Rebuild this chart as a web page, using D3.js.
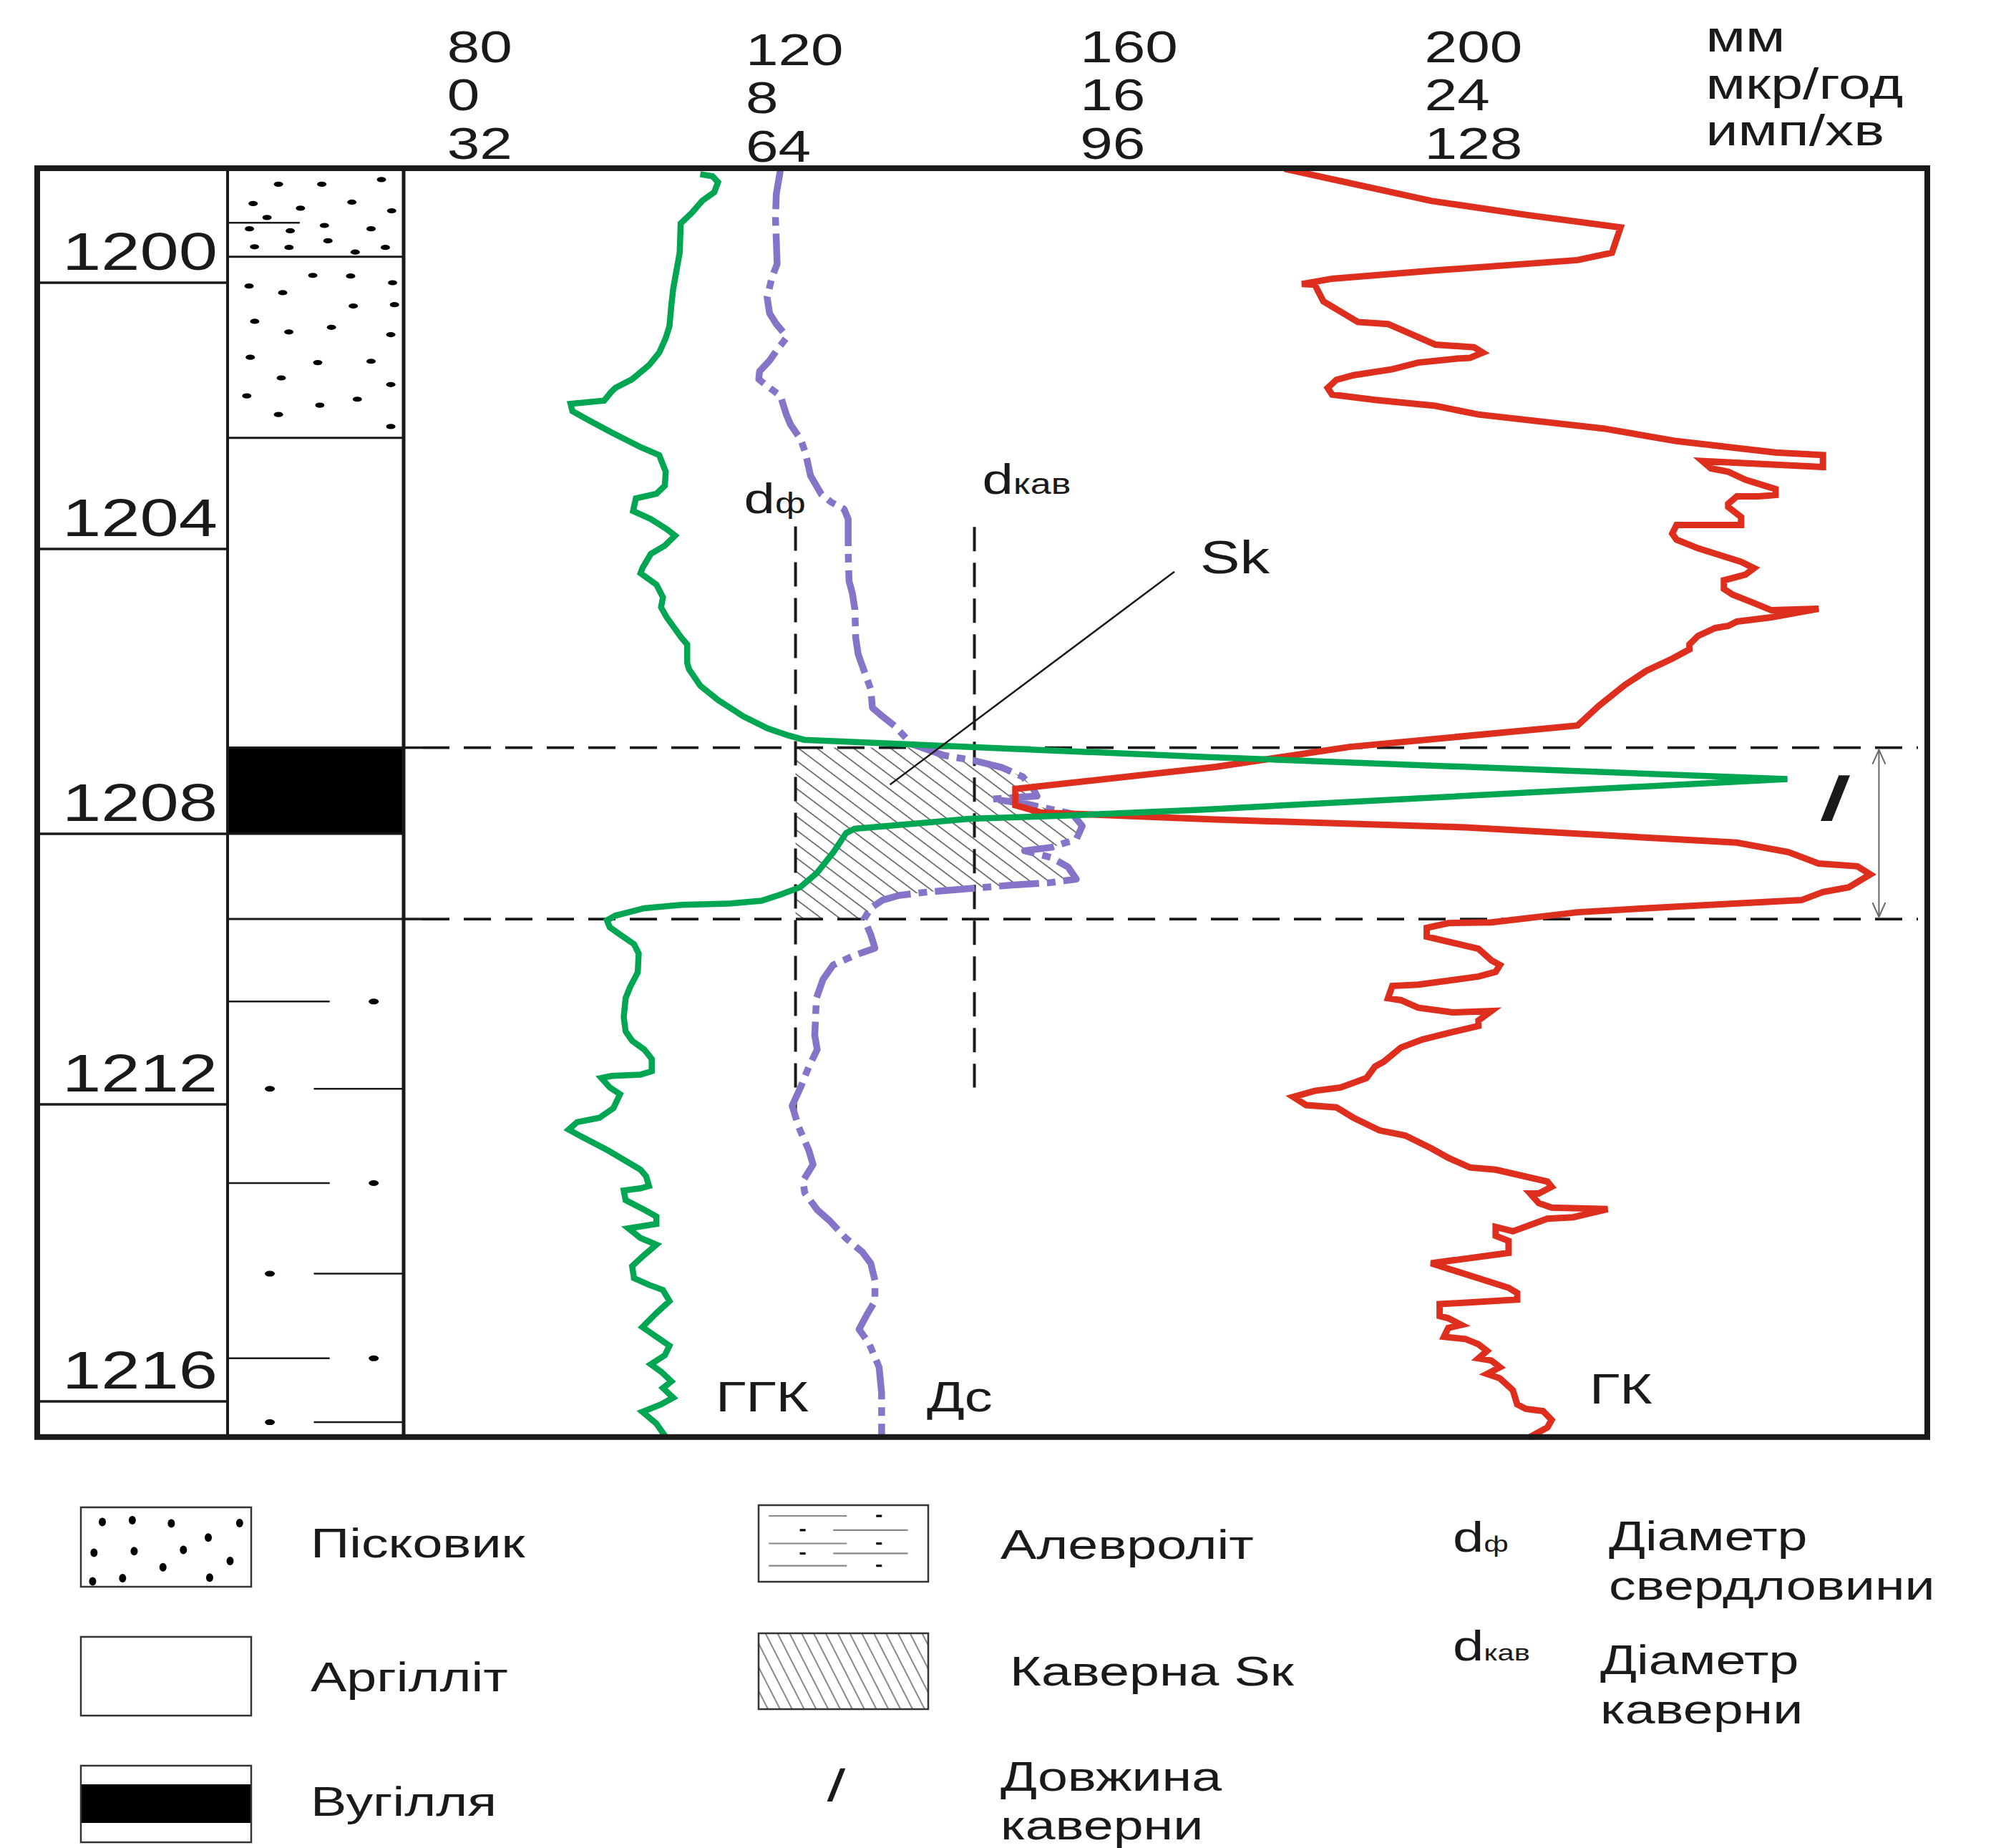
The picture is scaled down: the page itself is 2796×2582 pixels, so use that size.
<!DOCTYPE html>
<html><head><meta charset="utf-8">
<script src="https://cdn.jsdelivr.net/npm/d3@7"></script>
<style>html,body{margin:0;padding:0;background:#fff;} svg{display:block;}</style>
</head><body>
<svg id="chart" width="2796" height="2582"></svg>
<script>
// ===================== DATA =====================
const depthTicks = [1200, 1204, 1208, 1212, 1216];
const mmTicks = [80, 120, 160, 200];          // Дс, мм
const gkTicks = [0, 8, 16, 24];               // ГК, мкр/год
const ggkTicks = [32, 64, 96, 128];           // ГГК, имп/хв
const unitLabels = ["мм", "мкр/год", "имп/хв"];
const depthTop = 1198.28, depthBottom = 1216.48;

const lithology = [
  {top: 1198.28, base: 1199.61, rock: "пісковик"},
  {top: 1199.61, base: 1202.33, rock: "пісковик"},
  {top: 1202.33, base: 1206.79, rock: "аргіліт"},
  {top: 1206.79, base: 1208.00, rock: "вугілля"},
  {top: 1208.00, base: 1209.26, rock: "аргіліт"},
  {top: 1209.26, base: 1216.48, rock: "алевроліт"}
];
const sandLamina = [1199.10];
const siltRows = [1210.48, 1211.77, 1213.06, 1214.28, 1215.42, 1216.28];
const sandGrains = [[1198.52,0.289],[1198.52,0.535],[1198.45,0.874],[1198.81,0.145],[1198.88,0.414],[1198.79,0.706],[1198.92,0.932],[1199.02,0.224],[1199.19,0.124],[1199.22,0.356],[1199.14,0.550],[1199.19,0.815],[1199.46,0.153],[1199.47,0.349],[1199.37,0.570],[1199.54,0.725],[1199.47,0.896],[1199.89,0.484],[1199.90,0.699],[1200.00,0.937],[1200.05,0.122],[1200.15,0.313],[1200.35,0.714],[1200.33,0.948],[1200.58,0.154],[1200.74,0.348],[1200.67,0.590],[1200.78,0.927],[1201.12,0.129],[1201.20,0.512],[1201.18,0.815],[1201.43,0.305],[1201.53,0.927],[1201.70,0.109],[1201.84,0.524],[1201.75,0.737],[1201.98,0.289],[1202.16,0.927]];

// ГГК curve: [depth, имп/хв]
const ggkCurve = [[1198.37,58.9],[1198.40,60.2],[1198.49,60.8],[1198.64,60.4],[1198.77,59.1],[1198.95,58.0],[1199.11,56.8],[1199.54,56.7],[1199.78,56.4],[1200.09,56.0],[1200.34,55.8],[1200.65,55.6],[1200.83,55.2],[1201.05,54.5],[1201.24,53.4],[1201.45,51.6],[1201.58,49.8],[1201.65,49.3],[1201.77,48.6],[1201.82,45.0],[1201.93,45.2],[1202.07,47.0],[1202.25,49.4],[1202.47,52.5],[1202.59,54.5],[1202.84,55.2],[1203.05,55.1],[1203.17,54.2],[1203.24,52.0],[1203.43,51.7],[1203.55,53.6],[1203.70,55.3],[1203.80,56.2],[1203.95,55.1],[1204.07,53.6],[1204.27,52.7],[1204.34,52.5],[1204.50,54.2],[1204.68,54.9],[1204.82,54.7],[1204.96,55.3],[1205.25,56.9],[1205.34,57.5],[1205.60,57.5],[1205.69,57.7],[1205.92,58.9],[1206.12,60.8],[1206.35,63.5],[1206.52,65.9],[1206.62,67.9],[1206.68,69.4],[1206.92,107.2],[1207.23,161.5],[1207.66,107.2],[1207.74,95.0],[1207.79,85.2],[1207.93,74.2],[1207.99,73.4],[1208.27,72.2],[1208.58,70.6],[1208.79,69.0],[1208.90,67.1],[1208.99,65.3],[1209.03,62.2],[1209.05,56.9],[1209.10,52.9],[1209.21,49.8],[1209.28,48.9],[1209.38,49.2],[1209.49,50.3],[1209.63,51.8],[1209.77,52.3],[1210.05,52.2],[1210.26,51.4],[1210.43,50.9],[1210.71,50.7],[1210.92,50.9],[1211.06,51.6],[1211.19,52.9],[1211.33,53.7],[1211.51,53.7],[1211.56,52.5],[1211.58,49.4],[1211.61,48.3],[1211.75,49.2],[1211.85,50.3],[1212.05,49.6],[1212.18,48.1],[1212.24,45.7],[1212.34,44.8],[1212.43,46.1],[1212.62,49.0],[1212.88,52.5],[1212.97,53.1],[1213.10,53.4],[1213.13,52.5],[1213.16,50.7],[1213.29,50.9],[1213.42,52.9],[1213.51,54.2],[1213.61,54.2],[1213.67,51.2],[1213.80,52.5],[1213.89,54.2],[1214.05,52.7],[1214.18,51.6],[1214.34,51.8],[1214.43,53.4],[1214.50,54.9],[1214.65,55.6],[1214.81,54.2],[1215.00,52.7],[1215.13,54.2],[1215.25,55.6],[1215.38,55.1],[1215.50,53.6],[1215.60,54.7],[1215.73,55.8],[1215.82,54.9],[1215.95,56.0],[1216.04,54.7],[1216.14,52.7],[1216.30,54.2],[1216.48,55.2]];

// ГК curve: [depth, мкр/год]
const gkCurve = [[1198.29,20.7],[1198.77,24.1],[1198.98,26.3],[1199.17,28.5],[1199.55,28.3],[1199.66,27.5],[1199.82,24.1],[1199.94,21.8],[1200.02,21.1],[1200.03,21.4],[1200.28,21.6],[1200.59,22.4],[1200.62,23.1],[1200.93,24.2],[1200.97,25.1],[1201.05,25.3],[1201.13,25.0],[1201.14,24.7],[1201.20,23.8],[1201.30,23.2],[1201.39,22.3],[1201.46,21.9],[1201.58,21.7],[1201.68,21.8],[1201.76,22.8],[1201.85,24.2],[1201.98,25.2],[1202.19,28.1],[1202.38,29.8],[1202.55,32.1],[1202.59,33.2],[1202.77,33.2],[1202.68,30.4],[1202.79,30.6],[1202.84,31.0],[1202.96,31.4],[1203.06,31.9],[1203.10,32.1],[1203.19,32.1],[1203.21,31.7],[1203.21,31.2],[1203.32,31.0],[1203.37,31.0],[1203.52,31.3],[1203.64,31.3],[1203.64,29.8],[1203.77,29.7],[1203.86,29.8],[1203.99,30.3],[1204.18,31.3],[1204.27,31.6],[1204.36,31.4],[1204.44,30.9],[1204.56,30.9],[1204.64,31.1],[1204.76,31.6],[1204.86,32.0],[1204.84,33.1],[1204.96,32.0],[1205.02,31.2],[1205.08,31.0],[1205.11,30.7],[1205.22,30.3],[1205.34,30.1],[1205.41,30.1],[1205.54,29.7],[1205.71,29.1],[1205.91,28.6],[1206.20,28.0],[1206.48,27.5],[1206.78,22.2],[1207.06,19.1],[1207.37,14.4],[1207.60,14.4],[1207.70,15.0],[1207.80,19.1],[1207.91,24.9],[1208.13,31.2],[1208.27,32.4],[1208.44,33.1],[1208.48,34.0],[1208.60,34.3],[1208.79,33.8],[1208.86,33.2],[1208.98,32.7],[1209.10,29.1],[1209.16,27.5],[1209.31,25.5],[1209.32,24.5],[1209.39,24.0],[1209.52,24.0],[1209.70,25.2],[1209.87,25.5],[1209.94,25.7],[1210.04,25.6],[1210.11,25.2],[1210.23,23.8],[1210.25,23.2],[1210.43,23.1],[1210.46,23.4],[1210.57,23.8],[1210.64,24.6],[1210.62,25.5],[1210.76,25.2],[1210.84,25.2],[1210.93,24.6],[1211.04,23.9],[1211.16,23.4],[1211.37,23.0],[1211.44,22.8],[1211.61,22.6],[1211.75,22.0],[1211.80,21.4],[1211.89,20.9],[1212.01,21.2],[1212.04,21.9],[1212.18,22.3],[1212.35,22.9],[1212.42,23.5],[1212.59,24.1],[1212.72,24.5],[1212.85,25.0],[1212.88,25.6],[1213.04,26.8],[1213.11,26.9],[1213.20,26.6],[1213.20,26.4],[1213.33,26.6],[1213.39,26.9],[1213.41,28.2],[1213.52,27.4],[1213.54,26.8],[1213.71,26.0],[1213.65,25.6],[1213.77,25.6],[1213.84,25.9],[1214.00,25.9],[1214.14,24.1],[1214.47,25.9],[1214.54,26.1],[1214.63,26.1],[1214.69,24.3],[1214.85,24.3],[1214.88,24.5],[1214.97,24.8],[1215.01,24.5],[1215.13,24.4],[1215.16,24.9],[1215.23,25.2],[1215.32,25.4],[1215.42,25.2],[1215.45,25.5],[1215.54,25.7],[1215.63,25.4],[1215.69,25.7],[1215.85,26.0],[1216.04,26.1],[1216.10,26.3],[1216.13,26.7],[1216.25,26.9],[1216.35,26.8],[1216.48,26.4]];

// Дс curve (caliper): [depth, мм]
const dsCurve = [[1198.30,123.9],[1198.67,123.4],[1199.04,123.3],[1199.35,123.4],[1199.72,123.5],[1199.91,122.9],[1200.22,122.3],[1200.46,122.6],[1200.62,123.4],[1200.74,124.2],[1200.83,124.6],[1200.99,123.6],[1201.17,122.6],[1201.33,121.4],[1201.45,121.3],[1201.58,122.6],[1201.70,123.9],[1201.98,124.6],[1202.13,125.1],[1202.35,126.3],[1202.56,126.9],[1202.90,127.5],[1203.18,128.8],[1203.30,130.0],[1203.40,131.5],[1203.55,132.0],[1204.04,132.0],[1204.45,132.1],[1204.62,132.5],[1204.85,132.8],[1205.25,132.9],[1205.48,133.2],[1205.71,133.9],[1205.97,134.7],[1206.23,134.9],[1206.35,136.1],[1206.49,137.6],[1206.74,139.6],[1206.90,143.5],[1206.97,147.0],[1207.07,150.4],[1207.20,152.9],[1207.36,154.1],[1207.47,154.6],[1207.51,149.2],[1207.58,153.3],[1207.72,158.8],[1207.89,160.0],[1208.08,159.3],[1208.20,156.3],[1208.25,153.1],[1208.35,156.3],[1208.49,158.3],[1208.67,159.3],[1208.72,156.3],[1208.76,151.4],[1208.81,146.5],[1208.86,141.5],[1208.91,138.1],[1208.98,136.1],[1209.10,134.7],[1209.26,133.9],[1209.49,134.7],[1209.69,135.2],[1209.80,132.7],[1209.94,130.2],[1210.15,129.0],[1210.43,128.2],[1210.98,128.0],[1211.19,128.3],[1211.44,127.3],[1211.75,126.3],[1212.02,125.3],[1212.31,126.1],[1212.62,127.3],[1212.81,127.8],[1213.03,126.6],[1213.19,126.8],[1213.42,128.3],[1213.57,129.8],[1213.80,131.7],[1213.99,133.7],[1214.14,134.7],[1214.37,135.2],[1214.65,135.2],[1214.84,134.2],[1215.03,133.3],[1215.22,134.5],[1215.54,135.7],[1215.89,136.0],[1216.48,136.0]];

const bitDiameter = {mm: 125.7, from: 1203.66, to: 1212.12};     // dф
const cavernDiameter = {mm: 147.1, from: 1203.67, to: 1211.75};  // dкав
const cavern = {top: 1206.79, base: 1209.26};
const skLeader = [[1204.32, 170.7], [1207.31, 137.0]];           // [depth, mm]
const lengthArrowMm = 252.5;

const legendLith = [{label: "Пісковик", rock: "пісковик"}, {label: "Аргілліт", rock: "аргіліт"}, {label: "Вугілля", rock: "вугілля"}];
const legendMid = [{label: ["Алевроліт"], kind: "алевроліт"}, {label: ["Каверна Sк"], kind: "каверна"}, {label: ["Довжина", "каверни"], kind: "l"}];
const legendSym = [{sub: "ф", label: ["Діаметр", "свердловини"]}, {sub: "кав", label: ["Діаметр", "каверни"]}];

// ===================== DRAWING =====================
const svg = d3.select("#chart");
const FONT = "'Liberation Sans', Arial, Helvetica, sans-serif";
const SX = 1.3;
const INK = "#1a1a1a";
const GREEN = "#00A651", RED = "#DE2E1E", PURPLE = "#8674C9";

const y = d3.scaleLinear().domain(depthTicks).range([395, 767, 1165, 1543, 1958]);
const xRange = [627.7, 1045, 1512.2, 1993.6];
const xMm = d3.scaleLinear().domain(mmTicks).range(xRange);
const xGk = d3.scaleLinear().domain(gkTicks).range(xRange);
const xGgk = d3.scaleLinear().domain(ggkTicks).range(xRange);

const F = {left: 52, right: 2693, top: y(depthTop), bottom: y(depthBottom)};
const colD = {x0: 52, x1: 318};
const colL = {x0: 318, x1: 564};
const lx = f => colL.x0 + f * (colL.x1 - colL.x0);

function txt(parent, x, yy, s, size, o = {}) {
  const sx = o.sx ?? SX;
  const skew = o.skew ? ` skewX(${o.skew})` : "";
  const t = parent.append("text")
    .attr("transform", `translate(${x},${yy}) scale(${sx},1)${skew}`)
    .attr("font-family", FONT).attr("font-size", size)
    .attr("fill", o.fill || INK).attr("text-anchor", o.anchor || "start");
  if (o.weight) t.attr("font-weight", o.weight);
  if (s != null) t.text(s);
  return t;
}

svg.append("rect").attr("width", 2796).attr("height", 2582).attr("fill", "#fff");

const defs = svg.append("defs");
const hp = defs.append("pattern").attr("id", "hatch").attr("patternUnits", "userSpaceOnUse")
  .attr("width", 15.5).attr("height", 15.5).attr("patternTransform", "rotate(-53)");
hp.append("line").attr("x1", 7).attr("y1", -1).attr("x2", 7).attr("y2", 17).attr("stroke", "#444").attr("stroke-width", 1.4);
const hp2 = defs.append("pattern").attr("id", "hatchL").attr("patternUnits", "userSpaceOnUse")
  .attr("width", 15).attr("height", 15).attr("patternTransform", "rotate(-27)");
hp2.append("line").attr("x1", 7).attr("y1", -1).attr("x2", 7).attr("y2", 16).attr("stroke", "#555").attr("stroke-width", 1.4);

// ---- cavern hatch (between dф and caliper curve) ----
const yTop = y(cavern.top), yBot = y(cavern.base), xF = xMm(bitDiameter.mm);
const pp = dsCurve.map(d => [xMm(d[1]), y(d[0])]);
function crossAt(yt, start) {
  for (let i = start; i < pp.length - 1; i++) {
    const a = pp[i], b = pp[i + 1];
    if ((a[1] - yt) * (b[1] - yt) <= 0 && a[1] !== b[1]) {
      const t = (yt - a[1]) / (b[1] - a[1]);
      return {i, x: a[0] + t * (b[0] - a[0])};
    }
  }
}
const c1 = crossAt(yTop, 0), c2 = crossAt(yBot, c1.i + 1);
const poly = [[xF, yTop], [c1.x, yTop], ...pp.slice(c1.i + 1, c2.i + 1), [c2.x, yBot], [xF, yBot]];
svg.append("path").attr("d", d3.line()(poly) + "Z").attr("fill", "url(#hatch)").attr("stroke", "none");

// ---- lithology column ----
const lith = svg.append("g");
lithology.forEach(l => {
  if (l.rock === "вугілля") {
    lith.append("rect").attr("x", colL.x0).attr("width", colL.x1 - colL.x0)
      .attr("y", y(l.top)).attr("height", y(l.base) - y(l.top)).attr("fill", "#000");
  }
});
lith.selectAll("ellipse.g").data(sandGrains).join("ellipse")
  .attr("cx", d => lx(d[1])).attr("cy", d => y(d[0])).attr("rx", 6.5).attr("ry", 3.6).attr("fill", "#000");
lithology.slice(1).forEach(l => {
  lith.append("line").attr("x1", colL.x0).attr("x2", colL.x1).attr("y1", y(l.top)).attr("y2", y(l.top))
    .attr("stroke", INK).attr("stroke-width", 3);
});
sandLamina.forEach(d => lith.append("line").attr("x1", colL.x0).attr("x2", lx(0.41)).attr("y1", y(d)).attr("y2", y(d)).attr("stroke", INK).attr("stroke-width", 2.5));
siltRows.forEach((d, i) => {
  const yy = y(d);
  if (i % 2 === 0) {
    lith.append("line").attr("x1", colL.x0).attr("x2", lx(0.58)).attr("y1", yy).attr("y2", yy).attr("stroke", INK).attr("stroke-width", 2.5);
    lith.append("ellipse").attr("cx", lx(0.83)).attr("cy", yy).attr("rx", 7).attr("ry", 4).attr("fill", "#000");
  } else {
    lith.append("ellipse").attr("cx", lx(0.24)).attr("cy", yy).attr("rx", 7).attr("ry", 4).attr("fill", "#000");
    lith.append("line").attr("x1", lx(0.49)).attr("x2", colL.x1).attr("y1", yy).attr("y2", yy).attr("stroke", INK).attr("stroke-width", 2.5);
  }
});

// ---- depth column ----
const dg = svg.append("g");
depthTicks.forEach(d => {
  dg.append("line").attr("x1", colD.x0).attr("x2", colD.x1).attr("y1", y(d)).attr("y2", y(d)).attr("stroke", INK).attr("stroke-width", 3.5);
  txt(dg, 304, y(d) - 18, d, 75, {anchor: "end"});
});

// ---- dashed cavern boundaries ----
[cavern.top, cavern.base].forEach(d => {
  svg.append("line").attr("x1", colL.x1).attr("x2", 590).attr("y1", y(d)).attr("y2", y(d)).attr("stroke", INK).attr("stroke-width", 3.5);
  svg.append("line").attr("x1", 590).attr("x2", 2680).attr("y1", y(d)).attr("y2", y(d))
    .attr("stroke", INK).attr("stroke-width", 3.8).attr("stroke-dasharray", "38,20");
});
[bitDiameter, cavernDiameter].forEach(b => {
  svg.append("line").attr("x1", xMm(b.mm)).attr("x2", xMm(b.mm)).attr("y1", y(b.from)).attr("y2", y(b.to))
    .attr("stroke", INK).attr("stroke-width", 4).attr("stroke-dasharray", "34,16");
});

// ---- curves ----
const curves = svg.append("g").attr("fill", "none").attr("stroke-linejoin", "miter");
curves.append("path").datum(dsCurve)
  .attr("d", d3.line().x(d => xMm(d[1])).y(d => y(d[0])))
  .attr("stroke", PURPLE).attr("stroke-width", 9.5).attr("stroke-dasharray", "56,11,12,11").attr("stroke-linejoin", "round");
curves.append("path").datum(gkCurve)
  .attr("d", d3.line().x(d => xGk(d[1])).y(d => y(d[0])))
  .attr("stroke", RED).attr("stroke-width", 9);
curves.append("path").datum(ggkCurve)
  .attr("d", d3.line().x(d => xGgk(d[1])).y(d => y(d[0])))
  .attr("stroke", GREEN).attr("stroke-width", 8.5);

// ---- annotations ----
svg.append("line").attr("x1", xMm(skLeader[0][1])).attr("y1", y(skLeader[0][0]))
  .attr("x2", xMm(skLeader[1][1])).attr("y2", y(skLeader[1][0])).attr("stroke", INK).attr("stroke-width", 2.5);
txt(svg, xMm(skLeader[0][1]) + 36, y(skLeader[0][0]) + 2, "Sk", 64);

txt(svg, xMm(bitDiameter.mm) - 72, y(bitDiameter.from) - 18, null, 60)
  .call(t => { t.append("tspan").text("d"); t.append("tspan").attr("font-size", 40).text("ф"); });
txt(svg, xMm(cavernDiameter.mm) + 11, y(cavernDiameter.from) - 46, null, 60)
  .call(t => { t.append("tspan").text("d"); t.append("tspan").attr("font-size", 40).text("кав"); });

txt(svg, 1000, 1972, "ГГК", 60);
txt(svg, 1295, 1972, "Дс", 60);
txt(svg, 2221, 1961, "ГК", 60);

// length arrow
const ax = xMm(lengthArrowMm), a1 = y(cavern.top) + 3, a2 = y(cavern.base) - 3;
const ag = svg.append("g").attr("stroke", "#666").attr("stroke-width", 2).attr("fill", "none");
ag.append("line").attr("x1", ax).attr("x2", ax).attr("y1", a1).attr("y2", a2);
ag.append("path").attr("d", `M${ax - 9},${a1 + 20} L${ax},${a1} L${ax + 9},${a1 + 20}`);
ag.append("path").attr("d", `M${ax - 9},${a2 - 20} L${ax},${a2} L${ax + 9},${a2 - 20}`);
txt(svg, 2536, 1147, "l", 88, {skew: -17, weight: "bold"});

// ---- frame ----
const fr = svg.append("g").attr("stroke", INK).attr("fill", "none");
fr.append("line").attr("x1", colD.x1).attr("x2", colD.x1).attr("y1", F.top).attr("y2", F.bottom).attr("stroke-width", 4);
fr.append("line").attr("x1", colL.x1).attr("x2", colL.x1).attr("y1", F.top).attr("y2", F.bottom).attr("stroke-width", 5);
fr.append("rect").attr("x", F.left).attr("y", F.top).attr("width", F.right - F.left).attr("height", F.bottom - F.top).attr("stroke-width", 8);

// ---- header scales ----
const hg = svg.append("g");
const rowBase = [87, 154, 222];
mmTicks.forEach((v, i) => txt(hg, xMm(v) - 3, rowBase[0] + (i === 1 ? 4 : 0), v, 63));
gkTicks.forEach((v, i) => txt(hg, xGk(v) - 3, rowBase[1] + (i === 1 ? 4 : 0), v, 63));
ggkTicks.forEach((v, i) => txt(hg, xGgk(v) - 3, rowBase[2] + (i === 1 ? 4 : 0), v, 63));
const unitBase = [72, 138, 203];
unitLabels.forEach((u, i) => txt(hg, xMm(200) + 390, unitBase[i], u, 62));

// ---- legend ----
const lg = svg.append("g");
const LF = 58;
const legGrains = [[0.126,0.184],[0.302,0.162],[0.531,0.203],[0.932,0.199],[0.748,0.380],[0.077,0.573],[0.313,0.551],[0.602,0.536],[0.876,0.676],[0.482,0.754],[0.069,0.932],[0.245,0.891],[0.756,0.885]];
const lb1 = [{y: 2106, h: 111, tb: 2176}, {y: 2287, h: 110, tb: 2363}, {y: 2467, h: 107, tb: 2537}];
legendLith.forEach((it, i) => {
  const b = lb1[i], bx = 113, bw = 238;
  const g = lg.append("g");
  if (it.rock === "вугілля") {
    g.append("rect").attr("x", bx).attr("y", b.y + 26).attr("width", bw).attr("height", 54).attr("fill", "#000");
  }
  if (it.rock === "пісковик") {
    g.selectAll("ellipse").data(legGrains).join("ellipse")
      .attr("cx", d => bx + d[0] * bw).attr("cy", d => b.y + d[1] * b.h).attr("rx", 5).attr("ry", 6).attr("fill", "#000");
  }
  g.append("rect").attr("x", bx).attr("y", b.y).attr("width", bw).attr("height", b.h)
    .attr("fill", "none").attr("stroke", "#333").attr("stroke-width", 2.5);
  txt(lg, 434, b.tb, it.label, LF);
});

const lb2 = [{y: 2103, h: 107, tb: [2178]}, {y: 2282, h: 106, tb: [2355]}, {y: 0, h: 0, tb: [2502, 2570]}];
legendMid.forEach((it, i) => {
  const b = lb2[i], bx = 1060, bw = 237;
  const g = lg.append("g");
  if (it.kind === "алевроліт") {
    [0.14, 0.325, 0.5, 0.63, 0.79].forEach((f, k) => {
      const yy = b.y + f * b.h;
      if (k % 2 === 0) {
        g.append("line").attr("x1", bx + 0.06 * bw).attr("x2", bx + 0.52 * bw).attr("y1", yy).attr("y2", yy).attr("stroke", "#888").attr("stroke-width", 2.2);
        g.append("rect").attr("x", bx + 0.71 * bw - 4).attr("y", yy - 1.5).attr("width", 8).attr("height", 3.2).attr("fill", "#000");
      } else {
        g.append("rect").attr("x", bx + 0.26 * bw - 4).attr("y", yy - 1.5).attr("width", 8).attr("height", 3.2).attr("fill", "#000");
        g.append("line").attr("x1", bx + 0.44 * bw).attr("x2", bx + 0.88 * bw).attr("y1", yy).attr("y2", yy).attr("stroke", "#888").attr("stroke-width", 2.2);
      }
    });
  }
  if (it.kind === "каверна") {
    g.append("rect").attr("x", bx).attr("y", b.y).attr("width", bw).attr("height", b.h).attr("fill", "url(#hatchL)");
  }
  if (it.kind === "l") {
    txt(g, 1150, 2517, "l", 64, {skew: -17});
  } else {
    g.append("rect").attr("x", bx).attr("y", b.y).attr("width", bw).attr("height", b.h)
      .attr("fill", "none").attr("stroke", "#333").attr("stroke-width", 2.5);
  }
  const tx = it.kind === "каверна" ? 1411 : 1398;
  it.label.forEach((s, k) => txt(lg, tx, b.tb[k], s, LF));
});

const lb3 = [{sb: 2168, tx: 2248, tb: [2166, 2235]}, {sb: 2320, tx: 2236, tb: [2339, 2408]}];
legendSym.forEach((it, i) => {
  const b = lb3[i];
  txt(lg, 2030, b.sb, null, 60).call(t => { t.append("tspan").text("d"); t.append("tspan").attr("font-size", 32).text(it.sub); });
  it.label.forEach((s, k) => txt(lg, b.tx, b.tb[k], s, LF));
});
</script>
</body></html>
